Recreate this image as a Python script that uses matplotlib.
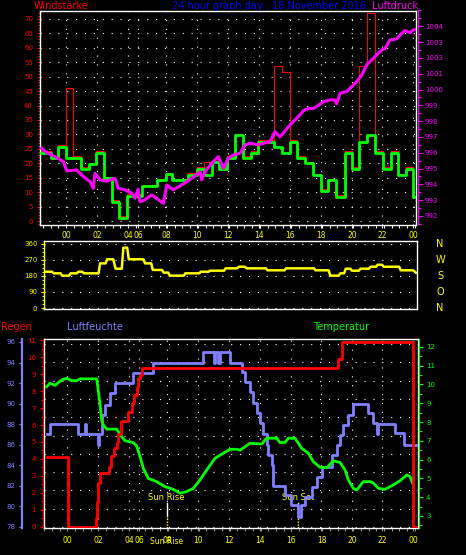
import matplotlib
matplotlib.use('Agg')
import matplotlib.pyplot as plt
from matplotlib.ticker import MultipleLocator, FixedLocator, FixedFormatter

plt.rcParams['font.family'] = ['DejaVu Sans']

# Stundenmarken (Achse zwischen 04 und 08 gestaucht)
hour_pos = [0, 2, 4, 4.65, 6.45, 8.45, 10.45, 12.45, 14.45, 16.45, 18.45, 20.4, 22.4]
hour_lbl = ['00', '02', '04', '06', '08', '10', '12', '14', '16', '18', '20', '22', '00']

# Windstärke (Mittel, grün)
wind_t = [-1.6, -1.0, -0.5, 0.0, 0.97, 1.46, 1.95, 2.47, 2.95, 3.44, 3.94, 4.88, 5.85, 6.43,
          6.84, 7.89, 8.43, 8.9, 9.42, 9.89, 10.39, 10.9, 11.42, 11.94, 12.41, 13.44, 13.95,
          14.45, 14.88, 15.42, 15.92, 16.43, 16.92, 17.42, 17.98, 18.47, 18.92, 19.44, 19.95,
          20.45, 20.95, 21.44, 21.92, 22.41, 22.58]
wind_avg = [23.7, 21.9, 25.7, 21.9, 18.1, 19.7, 23.7, 14.8, 6.7, 0.9, 8.7, 12.1, 14.2, 16.3,
            14.2, 16.0, 18.1, 16.0, 20.3, 18.1, 21.9, 29.7, 21.9, 23.7, 27.4, 25.7, 23.7,
            27.4, 21.9, 20.0, 15.9, 10.5, 14.2, 8.4, 23.7, 18.1, 27.4, 29.7, 23.7,
            18.1, 23.7, 15.9, 18.1, 8.2, 8.2]

# Böen (rot)
gust_t = [-1.6, -1.0, -0.5, 0.0, 0.45, 0.97, 1.46, 1.95, 2.47, 2.95, 3.44, 3.94, 4.88, 5.85,
          6.43, 6.84, 7.89, 8.43, 8.9, 9.42, 9.89, 10.39, 10.9, 11.42, 11.94, 12.41, 13.44,
          13.95, 14.45, 14.88, 15.42, 15.92, 16.43, 16.92, 17.42, 17.98, 18.47, 18.92, 19.44,
          19.95, 20.45, 20.95, 21.44, 21.92, 22.41, 22.58]
gust = [24.2, 22.4, 26.2, 46.0, 22.4, 18.6, 20.2, 24.2, 15.3, 7.2, 1.6, 9.2, 12.6, 14.7,
        16.8, 14.7, 16.5, 18.6, 20.3, 20.8, 18.6, 22.4, 30.2, 22.4, 24.2, 27.9, 53.7,
        51.6, 27.9, 22.4, 20.5, 16.4, 11.0, 14.7, 8.9, 24.2, 18.6, 53.7, 72.0,
        24.2, 18.6, 24.2, 16.4, 18.6, 8.7, 8.7]

# Luftdruck (magenta)
press_t = [-1.57, -1.25, -0.71, -0.17, 0.05, 0.69, 1.12, 1.55, 1.76, 1.87, 2.19, 2.63, 3.16,
           3.37, 3.81, 4.24, 4.45, 4.65, 4.77, 4.99, 5.53, 6.28, 6.5, 6.92, 7.46, 8.11, 8.65,
           8.75, 8.97, 9.4, 9.83, 10.15, 10.47, 10.79, 11.23, 11.55, 11.87, 12.41, 12.73,
           13.16, 13.48, 13.81, 14.45, 14.88, 15.31, 15.63, 15.95, 16.28, 16.6, 17.03, 17.35,
           17.46, 17.68, 18.11, 18.43, 18.75, 19.08, 19.4, 19.72, 20.05, 20.37, 20.58, 20.9,
           21.34, 21.66, 21.87, 22.19, 22.41, 22.56]
press = [996.28, 996.0, 995.75, 995.44, 994.85, 994.91, 994.49, 994.17, 993.75, 994.7, 994.28,
         994.2, 994.38, 993.75, 993.65, 993.44, 993.12, 993.7, 992.9, 992.97, 993.33, 992.8,
         993.96, 993.65, 993.96, 994.38, 994.8, 994.28, 994.8, 995.33, 995.75, 995.0, 995.65,
         995.86, 995.97, 996.5, 996.6, 996.5, 996.6, 996.7, 997.33, 997.0, 997.76, 998.18,
         998.65, 998.8, 998.8, 999.0, 999.23, 999.34, 999.34, 999.1, 999.77, 999.87, 1000.18,
         1000.5, 1000.92, 1001.56, 1001.87, 1002.2, 1002.5, 1002.6, 1003.14, 1003.2, 1003.56,
         1003.73, 1003.6, 1003.77, 1003.8]
press_ticks = [992, 993, 994, 995, 996, 997, 998, 999, 1000, 1001, 1002, 1003, 1004]
press_lbl = ['992', '993', '994', '995', '996', '997', '998', '999', '1000', '1001', '1003',
             '1003', '1004']

# Windrichtung (gelb)
dir_t = [-1.35, -0.9, -0.8, -0.35, -0.25, 0.2, 0.3, 0.7, 0.8, 1.05, 1.15, 2.1, 2.2, 2.55, 2.65,
         3.05, 3.2, 3.6, 3.7, 3.95, 4.05, 5.0, 5.1, 5.5, 5.6, 6.2, 6.3, 6.6, 6.7, 7.6, 7.7,
         8.6, 8.7, 9.2, 9.3, 10.2, 10.3, 11.05, 11.15, 11.55, 11.65, 12.9, 13.0, 14.1, 14.2,
         16.0, 16.1, 16.95, 17.05, 17.6, 17.7, 17.95, 18.05, 18.35, 18.45, 18.9, 19.0, 19.55,
         19.65, 20.0, 20.1, 20.4, 20.5, 21.5, 21.6, 22.4, 22.58]
dir_deg = [204, 204, 195, 195, 182, 182, 195, 195, 204, 204, 195, 195, 251, 251, 274,
           274, 221, 221, 339, 339, 274, 274, 251, 251, 214, 214, 199, 199, 182, 182, 195,
           195, 204, 204, 210, 210, 223, 223, 232, 232, 223, 223, 212, 212, 223,
           223, 212, 212, 182, 182, 195, 195, 221, 221, 210, 210, 221, 221,
           232, 232, 243, 243, 232, 232, 212, 212, 199]
dir_ticks = [0, 90, 180, 270, 360]
dir_names = ['N', 'O', 'S', 'W', 'N']

# Temperatur (grün)
temp_t = [-1.35, -1.13, -0.81, -0.38, -0.05, 0.27, 0.6, 0.81, 1.89, 1.99, 2.1, 2.21, 2.32, 2.54,
          3.19, 3.51, 3.72, 4.26, 4.48, 4.7, 4.91, 5.23, 5.78, 6.31, 6.85, 7.29, 7.72, 8.15,
          8.58, 9.02, 9.55, 10.09, 10.52, 10.96, 11.17, 11.82, 12.58, 12.9, 13.55, 13.76,
          14.09, 14.3, 14.73, 15.17, 15.6, 15.92, 16.35, 16.79, 17.21, 17.65, 17.97, 18.19,
          18.51, 18.73, 19.16, 19.59, 19.81, 20.13, 20.56, 21.1, 21.54, 21.97, 22.18, 22.36]
temp = [9.88, 10.07, 9.95, 10.24, 10.33, 10.2, 10.2, 10.3, 10.3, 9.7, 9.0, 8.1, 7.85, 7.62,
        7.62, 7.22, 7.01, 6.9, 6.73, 6.16, 5.54, 5.0, 4.83, 4.56, 4.42, 4.21, 4.3, 4.47,
        4.92, 5.45, 6.07, 6.34, 6.55, 6.55, 6.5, 6.87, 6.83, 7.14, 7.14, 6.91,
        6.91, 7.14, 7.14, 6.6, 6.34, 5.89, 5.59, 5.57, 5.93, 5.85, 5.45, 4.92,
        4.47, 4.38, 4.83, 4.83, 4.75, 4.47, 4.42, 4.65, 4.88, 5.18, 5.1, 4.74]

# Luftfeuchte (blau) - Stufen
hum_t = [-1.35, -1.13, 0.7, 1.13, 1.2, 1.99, 2.05, 2.21, 2.43, 2.75, 3.08, 4.26, 5.56, 8.8,
         9.5, 9.57, 9.75, 9.9, 10.52, 11.28, 11.5, 11.82, 12.03, 12.25, 12.47, 12.68, 12.9,
         13.0, 13.23, 13.33, 14.09, 14.46, 14.95, 15.12, 15.38, 15.82, 16.18, 16.46, 17.11,
         17.44, 17.65, 17.86, 18.19, 18.51, 19.48, 19.77, 20.03, 20.13, 21.21, 21.79, 22.57]
hum = [87.05, 88.0, 87.05, 88.0, 87.05, 86.0, 87.05, 88.9, 89.87, 91.0, 92.04, 92.95, 93.98,
       95.05, 94.0, 95.05, 94.0, 95.05, 94.0, 93.1, 92.14, 91.16, 90.03, 89.06, 88.09, 87.0,
       86.0, 85.0, 84.03, 82.0, 81.1, 80.14, 79.0, 80.14, 80.95, 81.92, 82.9, 83.87, 85.0,
       86.0, 86.95, 87.92, 88.9, 90.0, 89.06, 88.09, 87.0, 88.0, 87.1, 86.0, 86.0]

# Regen (rot) - Stufen
rain_t = [-1.35, 0.05, 1.85, 1.93, 1.99, 2.1, 2.71, 2.82, 3.01, 3.19, 3.29, 3.45, 3.94, 4.16,
          4.31, 4.48, 4.59, 4.7, 4.81, 17.54, 17.76, 22.36, 22.57]
rain = [4.14, 0.0, 0.5, 1.49, 2.57, 3.16, 3.55, 4.18, 4.63, 5.02, 5.5, 6.25, 6.78, 7.27,
        7.76, 8.25, 8.75, 8.94, 9.35, 9.86, 10.9, 0.0, 0.0]

sun_rise, sun_set = 6.42, 14.95

RED, GREEN, MAG, YEL, BLUE, HUM = '#ff0000', '#00ff00', '#ff00ff', '#ffff00', '#0000ff', '#8080ff'
BG = 'black'
W, H = 466, 555
dots = (0, (1, 7))


def rect(l, t, r, b):
    return [l / W, 1 - b / H, (r - l) / W, (b - t) / H]


def white_frame(ax):
    for s in ax.spines.values():
        s.set_color('white')
        s.set_linewidth(1)


fig = plt.figure(figsize=(W / 100, H / 100), dpi=100, facecolor=BG)

# ---------- oben: Wind + Luftdruck ----------
ax1 = fig.add_axes(rect(40, 10.5, 416, 224.5), facecolor=BG)
white_frame(ax1)
ax1.step(gust_t, gust, where='post', color=RED, lw=0.8, zorder=2)
ax1.step(wind_t, wind_avg, where='post', color=GREEN, lw=2, zorder=3)
ax1.set_xlim(-1.68, 22.58)
ax1.set_ylim(-1.2, 72.9)
ax1.xaxis.set_major_locator(FixedLocator(hour_pos))
ax1.xaxis.set_major_formatter(FixedFormatter(hour_lbl))
ax1.xaxis.set_minor_locator(MultipleLocator(0.5))
ax1.yaxis.set_major_locator(MultipleLocator(5))
ax1.yaxis.set_minor_locator(MultipleLocator(1))
ax1.tick_params(axis='x', which='both', colors='white', length=2.2, width=0.8,
                labelcolor=YEL, labelsize=5.5, pad=2.5)
ax1.tick_params(axis='y', which='major', colors=RED, length=2.2, width=0.8, labelsize=5, pad=2.8)
ax1.tick_params(axis='y', which='minor', colors=RED, length=1.3, width=0.7)
ax1.grid(True, which='major', color='white', linestyle=dots, linewidth=0.8)

ax1p = ax1.twinx()
for k, s in ax1p.spines.items():
    s.set_visible(k == 'right')
ax1p.spines['right'].set_color(MAG)
ax1p.spines['right'].set_position(('outward', 1.5))
ax1p.plot(press_t, press, color=MAG, lw=2.2, zorder=4)
ax1p.set_ylim(991.46, 1005.0)
ax1p.yaxis.set_major_locator(FixedLocator(press_ticks))
ax1p.yaxis.set_major_formatter(FixedFormatter(press_lbl))
ax1p.yaxis.set_minor_locator(MultipleLocator(0.5))
ax1p.tick_params(axis='y', which='major', colors=MAG, length=3.6, width=0.8, labelsize=5, pad=1.2)
ax1p.tick_params(axis='y', which='minor', colors=MAG, length=2, width=0.8)

fig.text(34 / W, 1 - 6 / H, 'Windstärke', color=RED, fontsize=7, va='center', ha='left')
fig.text(172 / W, 1 - 6 / H, '24 hour graph day : 18 November 2016', color=BLUE,
         fontsize=7, va='center', ha='left')
fig.text(372 / W, 1 - 6 / H, 'Luftdruck', color=MAG, fontsize=7, va='center', ha='left')

# ---------- Mitte: Windrichtung ----------
ax2 = fig.add_axes(rect(44.3, 241, 417, 309), facecolor=BG)
white_frame(ax2)
ax2.spines['left'].set_color(YEL)
ax2.plot(dir_t, dir_deg, color=YEL, lw=1.8)
ax2.set_xlim(-1.40, 22.65)
ax2.set_ylim(-5.6, 376.8)
ax2.set_xticks([])
ax2.yaxis.set_major_locator(FixedLocator(dir_ticks))
ax2.yaxis.set_minor_locator(MultipleLocator(22.5))
ax2.tick_params(axis='y', which='major', colors=YEL, length=2.4, width=0.8, labelsize=5, pad=2.5)
ax2.tick_params(axis='y', which='minor', colors=YEL, length=1.3, width=0.7)
ax2.grid(True, axis='y', color='white', linestyle=dots, linewidth=0.8)
for d, n in zip(dir_ticks, dir_names):
    ax2.text(1.062, d, n, transform=ax2.get_yaxis_transform(), color=YEL,
             fontsize=7, ha='center', va='center')

# ---------- unten: Regen, Luftfeuchte, Temperatur ----------
ax3 = fig.add_axes(rect(43.7, 339, 417.7, 528), facecolor=BG)
white_frame(ax3)
ax3.set_xlim(-1.54, 22.68)
ax3.set_ylim(-0.05, 10.27)
ax3.xaxis.set_major_locator(FixedLocator(hour_pos))
ax3.xaxis.set_major_formatter(FixedFormatter(hour_lbl))
ax3.xaxis.set_minor_locator(MultipleLocator(0.5))
ax3.yaxis.set_major_locator(MultipleLocator(1))
ax3.tick_params(axis='y', left=False, labelleft=False)
ax3.tick_params(axis='x', which='both', colors='#909090', length=2.2, width=0.8,
                labelcolor=YEL, labelsize=5.5, pad=3.5)
ax3.grid(True, color='white', linestyle=dots, linewidth=0.8)

ax3.text(sun_rise, -0.069, 'Sun Rise', transform=ax3.get_xaxis_transform(), color=YEL,
         fontsize=5.5, ha='center', va='center')
for xs, txt, top in [(sun_rise, 'Sun Rise', 0.069), (sun_set, 'Sun Set', 0.079)]:
    ax3.plot([xs, xs], [top, 0.132], transform=ax3.get_xaxis_transform(), color='white', lw=1)
    ax3.plot([xs, xs], [0, top], transform=ax3.get_xaxis_transform(), color=YEL, lw=1,
             linestyle=(0, (1, 1)))
    ax3.text(xs, 0.159, txt, transform=ax3.get_xaxis_transform(), color=YEL, fontsize=6,
             ha='center', va='center')

ax_h = ax3.twinx()
for k, s in ax_h.spines.items():
    s.set_visible(k == 'left')
ax_h.yaxis.tick_left()
ax_h.spines['left'].set_color(HUM)
ax_h.spines['left'].set_linewidth(1.6)
ax_h.spines['left'].set_position(('outward', 15.4))
ax_h.step(hum_t, hum, where='post', color=HUM, lw=2, zorder=2)
ax_h.set_ylim(77.9, 96.29)
ax_h.yaxis.set_major_locator(MultipleLocator(2))
ax_h.tick_params(axis='y', which='major', colors=HUM, length=2.5, width=0.9, labelsize=5, pad=2.7)

ax_t = ax3.twinx()
for k, s in ax_t.spines.items():
    s.set_visible(k == 'right')
ax_t.spines['right'].set_color(GREEN)
ax_t.spines['right'].set_position(('outward', 0.8))
ax_t.plot(temp_t, temp, color=GREEN, lw=2)
ax_t.set_ylim(2.36, 12.42)
ax_t.yaxis.set_major_locator(MultipleLocator(1))
ax_t.yaxis.set_minor_locator(MultipleLocator(0.5))
ax_t.tick_params(axis='y', which='major', colors=GREEN, length=3.1, width=0.8, labelsize=5, pad=2.2)
ax_t.tick_params(axis='y', which='minor', colors=GREEN, length=2, width=0.8)

ax_r = ax3.twinx()
for k, s in ax_r.spines.items():
    s.set_visible(k == 'left')
ax_r.yaxis.tick_left()
ax_r.spines['left'].set_color(RED)
ax_r.spines['left'].set_position(('outward', 0.7))
ax_r.step(rain_t, rain, where='post', color=RED, lw=2)
ax_r.set_ylim(-0.06, 11.06)
ax_r.yaxis.set_major_locator(MultipleLocator(1))
ax_r.yaxis.set_minor_locator(MultipleLocator(0.5))
ax_r.tick_params(axis='y', which='major', colors=RED, length=2, width=0.8, labelsize=5, pad=2.8)
ax_r.tick_params(axis='y', which='minor', colors=RED, length=1.2, width=0.7)

fig.text(1 / W, 1 - 327 / H, 'Regen', color=RED, fontsize=7, va='center', ha='left')
fig.text(67 / W, 1 - 327 / H, 'Luftfeuchte', color=HUM, fontsize=7, va='center', ha='left')
fig.text(313 / W, 1 - 327 / H, 'Temperatur', color=GREEN, fontsize=7, va='center', ha='left')

fig.savefig('out.png', dpi=100, facecolor=BG)
